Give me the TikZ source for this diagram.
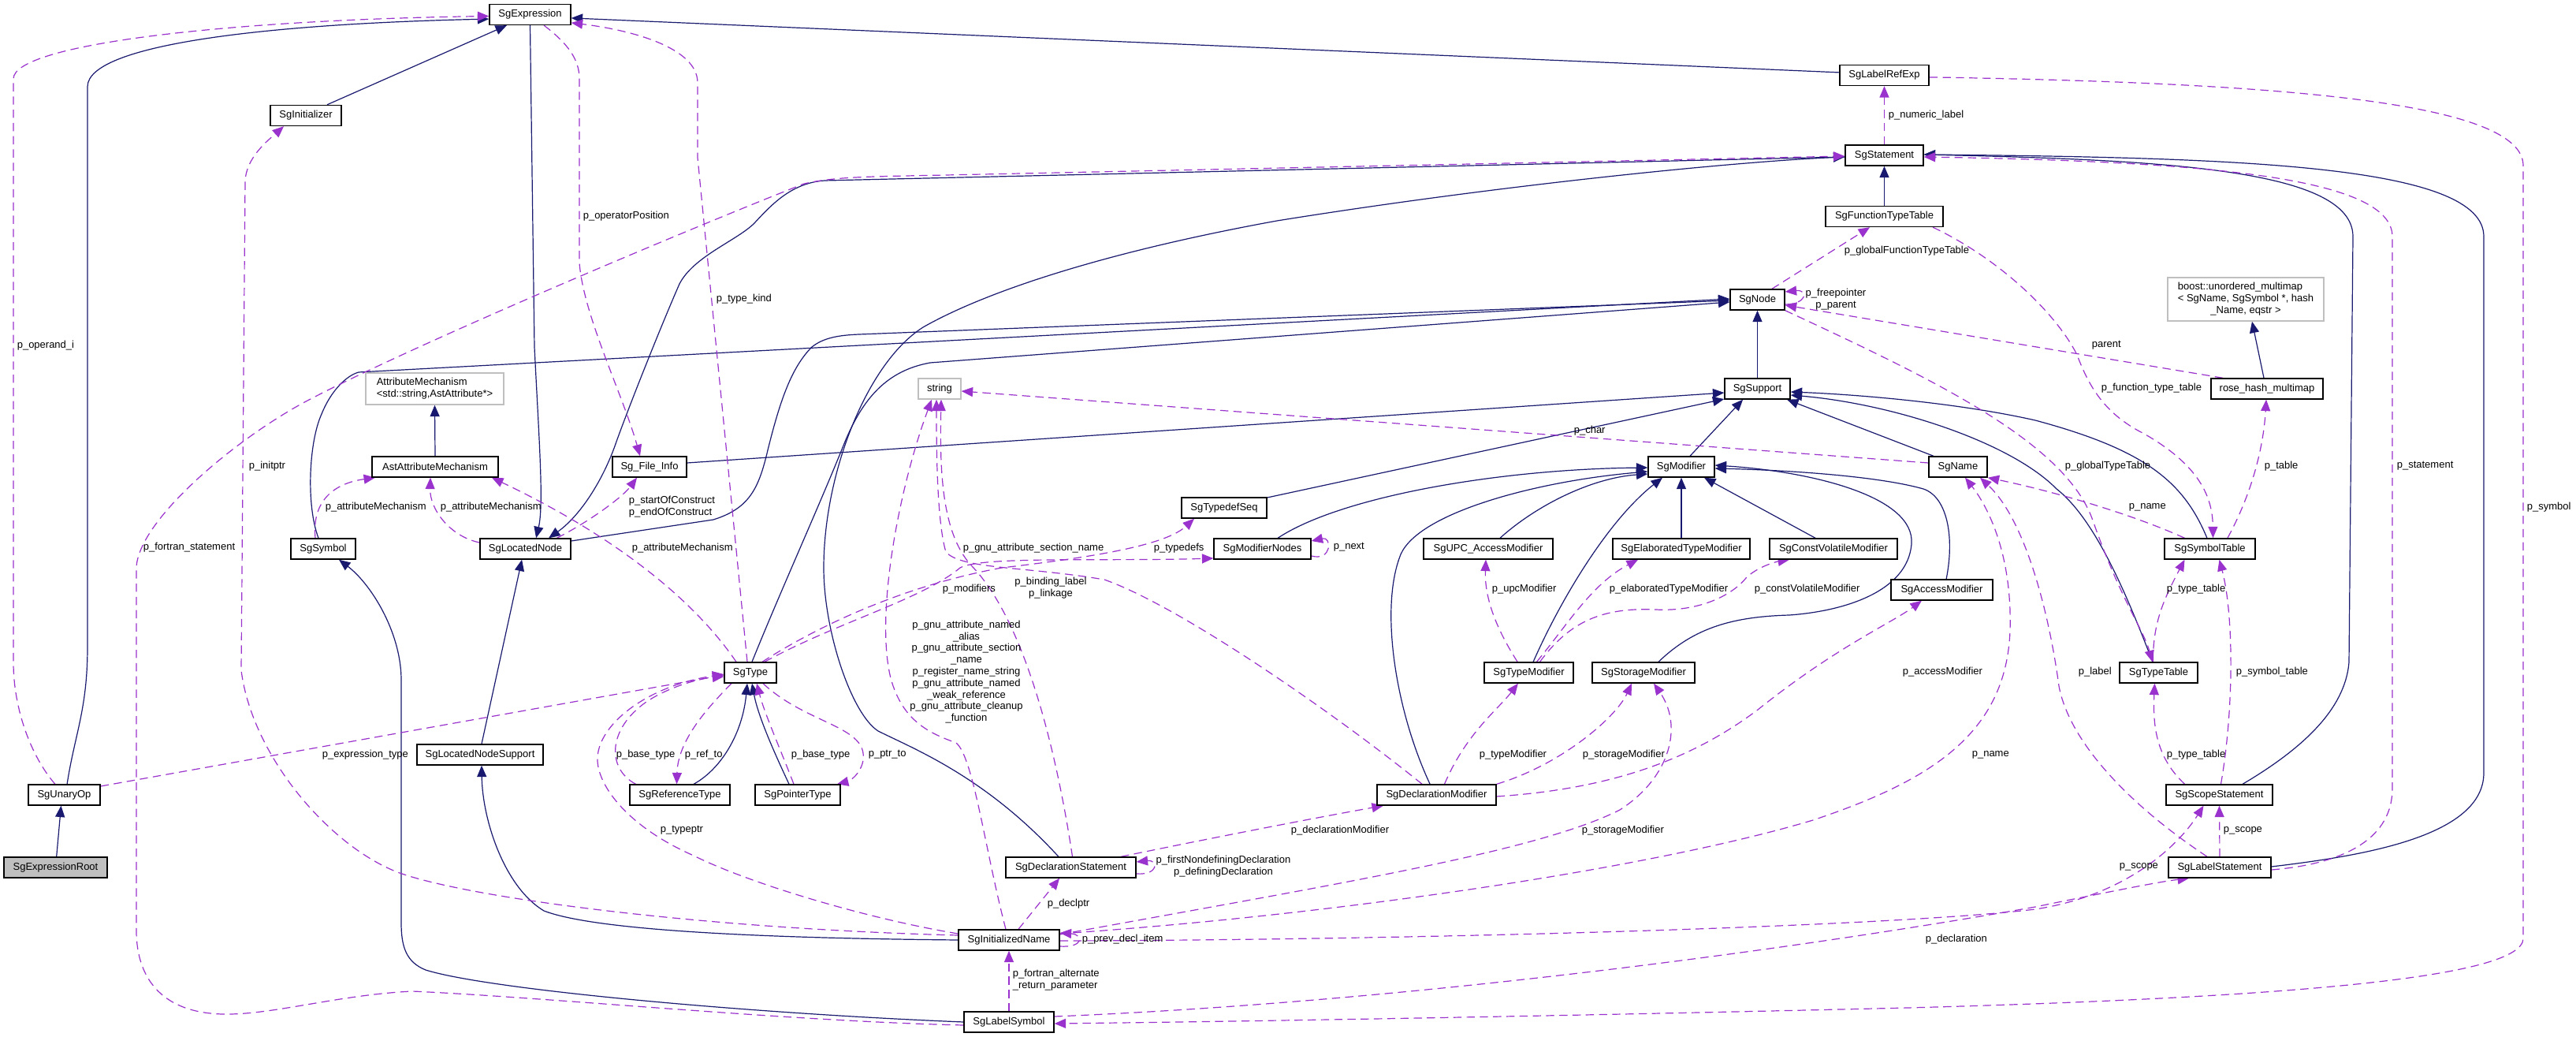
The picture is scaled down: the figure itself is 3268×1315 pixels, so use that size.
\documentclass[tikz,border=0pt]{standalone}
\usepackage{fontspec}
\setmainfont{Liberation Sans}
\usetikzlibrary{arrows.meta}
\definecolor{navy}{RGB}{25,25,112}
\definecolor{purp}{RGB}{154,50,205}
\definecolor{gbord}{RGB}{191,191,191}
\definecolor{gfill}{RGB}{191,191,191}
\pgfdeclarelayer{bg}
\pgfsetlayers{bg,main}
\begin{document}
\begin{tikzpicture}[x=0.25pt,y=-0.25pt,
  every node/.style={font=\fontsize{3.25pt}{3.7pt}\selectfont, inner sep=0pt},
  box/.style={draw=black, line width=0.35pt, fill=white, minimum height=6.5pt},
  gbox/.style={draw=gbord, line width=0.35pt, fill=white},
  inh/.style={draw=navy, line width=0.3pt, -{Triangle[length=3.6pt,width=3pt]}},
  use/.style={draw=purp, line width=0.3pt, dash pattern=on 2.6pt off 1.6pt, -{Triangle[length=3.6pt,width=3pt]}},
  lab/.style={anchor=west},
]
\useasboundingbox (0,0) rectangle (3268,1315);

% ---------- nodes ----------
\node[box,minimum width=25.75pt] (expr) at (672.5,18.5) {SgExpression};
\node[box,minimum width=22.5pt] (init) at (388,146.5) {SgInitializer};
\node[box,minimum width=28.25pt] (lre) at (2390.5,95.5) {SgLabelRefExp};
\node[box,minimum width=24.75pt] (stmt) at (2390.5,197) {SgStatement};
\node[box,minimum width=37.25pt] (ftt) at (2390.5,274.5) {SgFunctionTypeTable};
\node[box,minimum width=17.25pt] (node) at (2229.5,380) {SgNode};
\node[gbox,minimum width=49.5pt,minimum height=13.75pt] (boost) at (2849,379.5)
  {\begin{tabular}{@{}l@{}}boost::unordered\_multimap\\< SgName, SgSymbol *, hash\\\multicolumn{1}{@{}c@{}}{\_Name, eqstr >}\end{tabular}};
\node[box,minimum width=35.5pt] (rhm) at (2876,493) {rose\_hash\_multimap};
\node[box,minimum width=18.5pt] (name) at (2484,592) {SgName};
\node[box,minimum width=28.75pt] (symt) at (2803.5,696) {SgSymbolTable};
\node[box,minimum width=32.25pt] (accm) at (2463.5,748) {SgAccessModifier};
\node[box,minimum width=24.75pt] (typet) at (2738.5,853) {SgTypeTable};
\node[box,minimum width=20.75pt] (supp) at (2229.5,493) {SgSupport};
\node[box,minimum width=21pt] (modf) at (2133,592) {SgModifier};
\node[box,minimum width=30.75pt] (modn) at (1601.5,696) {SgModifierNodes};
\node[box,minimum width=41pt] (upc) at (1888,696) {SgUPC\_AccessModifier};
\node[box,minimum width=43.5pt] (elab) at (2133,696) {SgElaboratedTypeModifier};
\node[box,minimum width=40.5pt] (cvm) at (2326,696) {SgConstVolatileModifier};
\node[box,minimum width=28.25pt] (tmod) at (1939.5,853) {SgTypeModifier};
\node[box,minimum width=32.5pt] (smod) at (2085,853) {SgStorageModifier};
\node[gbox,minimum width=13.5pt,minimum height=6.5pt] (str) at (1192,493) {string};
\node[box,minimum width=23.5pt] (fi) at (824,592) {Sg\_File\_Info};
\node[box,minimum width=27pt] (tds) at (1553,644) {SgTypedefSeq};
\node[box,minimum width=16.5pt] (type) at (952,853) {SgType};
\node[gbox,minimum width=43.75pt,minimum height=10pt,align=left] (am) at (551.5,493) {AttributeMechanism\\<std::string,AstAttribute*>};
\node[box,minimum width=40pt] (aam) at (552,592) {AstAttributeMechanism};
\node[box,minimum width=20.5pt] (sym) at (410,696) {SgSymbol};
\node[box,minimum width=28.75pt] (ln) at (666.5,696) {SgLocatedNode};
\node[box,minimum width=22.75pt] (unop) at (81.5,1008) {SgUnaryOp};
\node[box,minimum width=32.75pt,fill=gfill] (root) at (70.5,1100) {SgExpressionRoot};
\node[box,minimum width=40pt] (lns) at (609,957) {SgLocatedNodeSupport};
\node[box,minimum width=31.75pt] (reft) at (862.5,1008) {SgReferenceType};
\node[box,minimum width=27pt] (ptrt) at (1012,1008) {SgPointerType};
\node[box,minimum width=41.25pt] (dst) at (1358.5,1100) {SgDeclarationStatement};
\node[box,minimum width=32pt] (iname) at (1280,1192) {SgInitializedName};
\node[box,minimum width=28.5pt] (lsym) at (1280,1296) {SgLabelSymbol};
\node[box,minimum width=37.75pt] (dmod) at (1822.5,1008) {SgDeclarationModifier};
\node[box,minimum width=33.75pt] (scope) at (2815.5,1008) {SgScopeStatement};
\node[box,minimum width=32.5pt] (lstmt) at (2816,1100) {SgLabelStatement};

% ---------- labels ----------
\node[lab] (l1) at (21,438) {p\_operand\_i};
\node[lab] (l2) at (739,274) {p\_operatorPosition};
\node[lab] (l3) at (908,379) {p\_type\_kind};
\node[lab] (l4) at (315,591) {p\_initptr};
\node[lab] (l5) at (181,694) {p\_fortran\_statement};
\node[lab] (l6) at (412,643) {p\_attributeMechanism};
\node[lab] (l7) at (558,643) {p\_attributeMechanism};
\node[lab,align=left] (l8) at (797,643) {p\_startOfConstruct\\p\_endOfConstruct};
\node[lab] (l9) at (801,695) {p\_attributeMechanism};
\node[lab] (l10) at (1221,695) {p\_gnu\_attribute\_section\_name};
\node[lab] (l11) at (1463,695) {p\_typedefs};
\node[lab] (l12) at (1195,747) {p\_modifiers};
\node[align=center] (l13) at (1333,746) {p\_binding\_label\\p\_linkage};
\node[align=center] (l14) at (1226,852) {p\_gnu\_attribute\_named\\\_alias\\p\_gnu\_attribute\_section\\\_name\\p\_register\_name\_string\\p\_gnu\_attribute\_named\\\_weak\_reference\\p\_gnu\_attribute\_cleanup\\\_function};
\node[lab] (l15) at (2395,146) {p\_numeric\_label};
\node[lab] (l16) at (2339,318) {p\_globalFunctionTypeTable};
\node[align=center] (l17) at (2329,380) {p\_freepointer\\p\_parent};
\node[lab] (l19) at (2653,438) {parent};
\node[lab] (l20) at (2665,492) {p\_function\_type\_table};
\node[lab] (l21) at (2619,591) {p\_globalTypeTable};
\node[lab] (l22) at (2872,591) {p\_table};
\node[lab] (l23) at (3040,591) {p\_statement};
\node[lab] (l24) at (2700,643) {p\_name};
\node[lab] (l25) at (3205,643) {p\_symbol};
\node[lab] (l26) at (1996,546) {p\_char};
\node[lab] (l27) at (1691,694) {p\_next};
\node[lab] (l28) at (1892,747) {p\_upcModifier};
\node[lab] (l29) at (2041,747) {p\_elaboratedTypeModifier};
\node[lab] (l30) at (2225,747) {p\_constVolatileModifier};
\node[lab] (l31) at (2748,747) {p\_type\_table};
\node[lab] (l32) at (2413,852) {p\_accessModifier};
\node[lab] (l33) at (2636,852) {p\_label};
\node[lab] (l34) at (2836,852) {p\_symbol\_table};
\node[lab] (l35) at (408,957) {p\_expression\_type};
\node[lab] (l36) at (781,957) {p\_base\_type};
\node[lab] (l37) at (868,957) {p\_ref\_to};
\node[lab] (l38) at (1003,957) {p\_base\_type};
\node[lab] (l39) at (1101,957) {p\_ptr\_to};
\node[lab] (l40) at (837,1053) {p\_typeptr};
\node[align=center] (l41) at (1552,1099) {p\_firstNondefiningDeclaration\\p\_definingDeclaration};
\node[lab] (l42) at (1328,1146) {p\_declptr};
\node[lab] (l43) at (1372,1191) {p\_prev\_decl\_item};
\node[lab,align=left] (l44) at (1284,1243) {p\_fortran\_alternate\\\_return\_parameter};
\node[lab] (l45) at (1876,957) {p\_typeModifier};
\node[lab] (l46) at (2007,957) {p\_storageModifier};
\node[lab] (l47) at (1637,1053) {p\_declarationModifier};
\node[lab] (l48) at (2006,1053) {p\_storageModifier};
\node[lab] (l49) at (2501,957) {p\_name};
\node[lab] (l50) at (2748,957) {p\_type\_table};
\node[lab] (l51) at (2820,1053) {p\_scope};
\node[lab] (l52) at (2688,1099) {p\_scope};
\node[lab] (l53) at (2442,1191) {p\_declaration};

\begin{pgfonlayer}{bg}
\fill[white] (0,0) rectangle (3268,1315);
% ---------- inheritance ----------
\draw[inh] ([xshift=0.3pt]root.north) -- ([xshift=-1pt]unop.south);
\draw[inh] ([xshift=0.9pt]unop.north) .. controls (95,930) and (111,900) .. (111,820) -- (111,110) .. controls (111,55) and (350,30) .. ([yshift=-1.4pt]expr.west);
\draw[inh] ([xshift=6.75pt]init.north) -- ([xshift=-7.4pt]expr.south);
\draw[inh] (expr.south) -- (678,440) .. controls (684,560) and (690,640) .. ([xshift=3.4pt]ln.north);
\draw[inh] ([yshift=-0.5pt]stmt.west) -- (1046,229) .. controls (1005,232) and (980,258) .. (957,283) .. controls (935,305) and (880,325) .. (862,360) .. controls (840,410) and (800,510) .. (782,560) .. controls (765,610) and (735,655) .. ([xshift=7.4pt]ln.north);
\draw[inh] ([xshift=0.5pt]lns.north) -- ([xshift=-1.1pt]ln.south);
\draw[inh] (iname.west) .. controls (1000,1190) and (760,1182) .. (690,1155) .. controls (640,1125) and (612,1040) .. ([xshift=0.5pt]lns.south);
\draw[inh] (lsym.west) .. controls (950,1285) and (620,1255) .. (540,1230) .. controls (515,1220) and (509,1200) .. (509,1170) -- (509,860) .. controls (508,800) and (470,740) .. ([xshift=5pt]sym.south);
\draw[inh] ([xshift=-1.5pt]sym.north) .. controls (388,640) and (392,560) .. (408,525) .. controls (420,495) and (440,476) .. (455,472) -- ([yshift=0.25pt]node.west);
\draw[inh] ([yshift=2.5pt]ln.east) -- (905,659) .. controls (950,645) and (962,620) .. (973,575) .. controls (990,505) and (1005,465) .. (1030,440) .. controls (1045,428) and (1065,425) .. (1090,424) -- ([yshift=-0.25pt]node.west);
\draw[inh] ([xshift=0.5pt]type.north) .. controls (990,750) and (1040,640) .. (1072,560) .. controls (1095,505) and (1125,470) .. (1180,460) -- ([yshift=-0.75pt]node.west);
\draw[inh] ([xshift=-3.9pt]dst.north) .. controls (1250,985) and (1160,950) .. (1114,927) .. controls (1080,905) and (1045,800) .. (1045,720) .. controls (1045,600) and (1100,460) .. (1171,415) .. controls (1250,370) and (1400,320) .. (1620,280) .. controls (1900,235) and (2200,205) .. ([yshift=-0.5pt]stmt.west);
\draw[inh] ([xshift=4.4pt]reft.north) .. controls (915,975) and (942,930) .. ([xshift=-1pt]type.south);
\draw[inh] ([xshift=-2.75pt]ptrt.north) .. controls (985,960) and (962,910) .. ([xshift=0.5pt]type.south);
\draw[inh] ([yshift=1.25pt]fi.east) -- ([yshift=-1.25pt]supp.west);
\draw[inh] ([yshift=3.25pt]tds.east) -- ([yshift=-3.25pt]supp.west);
\draw[inh] ([xshift=4.9pt]modn.north) .. controls (1700,630) and (1900,595) .. ([yshift=-0.25pt]modf.west);
\draw[inh] ([xshift=3.75pt]upc.north) .. controls (1950,640) and (2020,606) .. ([yshift=-2.25pt]modf.west);
\draw[inh] ([xshift=-2.1pt]dmod.north) .. controls (1770,900) and (1750,770) .. (1777,703) .. controls (1800,650) and (1950,610) .. ([yshift=-1.5pt]modf.west);
\draw[inh] ([xshift=1.4pt]tmod.north) .. controls (1980,760) and (2040,660) .. ([xshift=-6pt]modf.south);
\draw[inh] (elab.north) -- (modf.south);
\draw[inh] ([xshift=-5.75pt]cvm.north) -- ([xshift=7.25pt]modf.south);
\draw[inh] ([xshift=4.75pt]smod.north) .. controls (2150,795) and (2200,782) .. (2270,780) .. controls (2340,775) and (2420,750) .. (2425,690) .. controls (2430,630) and (2300,598) .. ([yshift=0.5pt]modf.east);
\draw[inh] ([xshift=1.4pt]accm.north) .. controls (2480,680) and (2470,630) .. (2440,620) .. controls (2380,603) and (2260,596) .. ([yshift=-0.5pt]modf.east);
\draw[inh] ([xshift=2.75pt]modf.north) -- ([xshift=-4.6pt]supp.south);
\draw[inh] ([xshift=-7.75pt]name.north) -- ([xshift=9.4pt]supp.south);
\draw[inh] ([xshift=-0.9pt]symt.north) .. controls (2770,610) and (2720,570) .. (2582,533) .. controls (2480,510) and (2350,500) .. ([yshift=-1pt]supp.east);
\draw[inh] ([xshift=-1.9pt]typet.north) .. controls (2700,760) and (2660,660) .. (2609,620) .. controls (2550,560) and (2400,512) .. ([yshift=-2pt]supp.east);
\draw[inh] (supp.north) -- (node.south);
\draw[inh] (ftt.north) -- (stmt.south);
\draw[inh] ([yshift=0.9pt]lre.west) -- ([yshift=-1.1pt]expr.east);
\draw[inh] ([xshift=7.4pt]scope.north) .. controls (2920,950) and (2975,900) .. (2980,840) -- (2985,300) .. controls (2985,215) and (2750,203) .. ([yshift=0.25pt]stmt.east);
\draw[inh] ([yshift=0.25pt]lstmt.east) .. controls (3000,1085) and (3151,1060) .. (3151,980) -- (3151,300) .. controls (3151,210) and (2850,200) .. ([yshift=0.25pt]stmt.east);
\draw[inh] ([xshift=-1pt]rhm.north) -- ([xshift=2pt]boost.south);
\draw[inh] (aam.north) -- (am.south);

% ---------- usage ----------
\draw[use] ([xshift=-2.9pt]unop.north) .. controls (40,960) and (17,900) .. (17,840) -- (17,100) .. controls (17,55) and (300,25) .. ([yshift=-0.5pt]expr.west);
\draw[use] ([yshift=2.75pt]unop.east) -- ([yshift=-0.75pt]type.west);
\draw[use] ([yshift=1.5pt]iname.west) .. controls (900,1178) and (600,1140) .. (507,1107) .. controls (420,1075) and (320,960) .. (306,850) -- (311,230) .. controls (312,200) and (340,178) .. ([xshift=-7pt]init.south);
\draw[use] ([xshift=4.4pt]expr.south) .. controls (720,55) and (735,75) .. (735,100) -- (735,333) .. controls (740,400) and (790,500) .. ([xshift=-3pt]fi.north);
\draw[use] ([xshift=-1pt]type.north) -- (885,200) -- (885,105) .. controls (885,60) and (800,38) .. ([yshift=-2.6pt]expr.east);
\draw[use] ([yshift=-1pt]lsym.west) .. controls (1000,1295) and (700,1265) .. (523,1257) .. controls (420,1262) and (330,1292) .. (267,1285) .. controls (200,1278) and (173,1235) .. (173,1180) -- (173,720) .. controls (175,660) and (300,555) .. (392,507) .. controls (520,440) and (850,300) .. (1020,233) .. controls (1060,224) and (1100,224) .. (1200,222) -- ([yshift=-0.25pt]stmt.west);
\draw[use] ([yshift=-0.6pt]lre.east) .. controls (2900,105) and (3201,130) .. (3201,210) -- (3201,1190) .. controls (3201,1240) and (2900,1265) .. (2420,1278) .. controls (2000,1288) and (1600,1295) .. ([yshift=-0.5pt]lsym.east);
\draw[use] (stmt.north) -- (lre.south);
\draw[use] ([xshift=4.6pt]node.north) -- ([xshift=-4.6pt]ftt.south);
\draw[use] ([yshift=-1.5pt]node.east) .. controls (2292,386) and (2295,367) .. ([yshift=2.5pt]node.east);
\draw[use] ([xshift=-14pt]rhm.north) -- ([yshift=-1.75pt]node.east);
\draw[use] ([xshift=15.4pt]ftt.south) .. controls (2540,330) and (2610,400) .. (2635,450) .. controls (2650,490) and (2670,525) .. (2720,550) .. controls (2790,590) and (2807,630) .. ([xshift=1pt]symt.north);
\draw[use] ([xshift=5.6pt]symt.north) .. controls (2860,620) and (2872,560) .. ([xshift=-0.25pt]rhm.south);
\draw[use] ([yshift=1.25pt]name.west) -- ([yshift=-0.75pt]str.east);
\draw[use] ([xshift=-8pt]symt.north) .. controls (2700,650) and (2600,622) .. (name.south east);
\draw[use] ([xshift=-4.5pt]type.north) .. controls (880,760) and (780,680) .. ([xshift=18pt]aam.south);
\draw[use] ([xshift=-2.5pt]sym.north) .. controls (395,630) and (430,612) .. ([xshift=-19pt]aam.south);
\draw[use] ([yshift=2pt]ln.west) .. controls (570,680) and (545,645) .. ([xshift=-1.5pt]aam.south);
\draw[use] ([xshift=10pt]ln.north) .. controls (750,660) and (790,630) .. ([xshift=-4pt]fi.south);
\draw[use] ([yshift=-0.75pt]lstmt.east) .. controls (2980,1095) and (3035,1060) .. (3035,1000) -- (3035,300) .. controls (3035,225) and (2800,205) .. ([yshift=-0.5pt]stmt.east);
\draw[use] ([yshift=-2pt]dst.east) .. controls (1470,1110) and (1470,1090) .. ([yshift=1.75pt]dst.east);
\draw[use] ([xshift=3pt]iname.north) -- ([xshift=-3.6pt]dst.south);
\draw[use] ([yshift=-2pt]iname.east) .. controls (1375,1202) and (1375,1185) .. ([yshift=2.25pt]iname.east);
\draw[use] (lsym.north) -- (iname.south);
\draw[use] ([yshift=2pt]iname.west) .. controls (1100,1165) and (950,1120) .. (880,1085) .. controls (800,1050) and (760,1000) .. (758,965) .. controls (756,920) and (820,870) .. ([yshift=-0.5pt]type.west);
\draw[use] ([xshift=-14pt]reft.north) .. controls (770,975) and (770,925) .. (820,890) .. controls (850,870) and (890,860) .. ([yshift=-1.25pt]type.west);
\draw[use] ([xshift=-6pt]type.south) .. controls (895,900) and (860,940) .. ([xshift=-1pt]reft.north);
\draw[use] ([xshift=-1.25pt]ptrt.north) .. controls (990,950) and (970,905) .. ([xshift=2pt]type.south);
\draw[use] ([xshift=4pt]type.south) .. controls (1020,915) and (1090,920) .. (1095,955) .. controls (1098,975) and (1080,990) .. ([xshift=12.5pt]ptrt.north);
\draw[use] ([xshift=4.5pt]type.north) .. controls (1060,790) and (1170,760) .. (1218,720) .. controls (1245,705) and (1400,712) .. ([yshift=-3pt]modn.west);
\draw[use] ([xshift=3.75pt]type.north) .. controls (1050,786) and (1160,740) .. (1271,720) .. controls (1400,705) and (1480,690) .. ([xshift=-9.5pt]tds.south);
\draw[use] ([xshift=-4.6pt]dmod.north) .. controls (1700,910) and (1500,770) .. (1401,735) .. controls (1300,718) and (1220,722) .. (1200,700) .. controls (1188,660) and (1188,560) .. ([xshift=-1pt]str.south);
\draw[use] ([xshift=0.5pt]dst.north) .. controls (1340,950) and (1300,790) .. (1235,720) .. controls (1195,680) and (1192,600) .. ([xshift=0.5pt]str.south);
\draw[use] ([xshift=-1pt]iname.north) .. controls (1250,1080) and (1235,960) .. (1213,942) .. controls (1180,930) and (1145,915) .. (1130,860) .. controls (1110,780) and (1140,620) .. ([xshift=-2.5pt]str.south);
\draw[use] ([yshift=-2.25pt]modn.east) .. controls (1690,712) and (1690,680) .. ([yshift=2.5pt]modn.east);
\draw[use] ([xshift=-3.6pt]tmod.north) .. controls (1900,800) and (1883,760) .. ([xshift=-0.75pt]upc.south);
\draw[use] ([xshift=2.5pt]tmod.north) .. controls (1990,790) and (2020,740) .. ([xshift=-13.75pt]elab.south);
\draw[use] ([xshift=3.5pt]tmod.north) .. controls (1990,790) and (2030,770) .. (2100,773) .. controls (2160,776) and (2200,752) .. (2215,733) .. controls (2230,718) and (2255,712) .. ([xshift=-14pt]cvm.south);
\draw[use] ([xshift=2.5pt]dmod.north) .. controls (1860,930) and (1900,900) .. ([xshift=-3.4pt]tmod.south);
\draw[use] (dmod.north east) .. controls (1980,970) and (2050,910) .. ([xshift=-3.75pt]smod.south);
\draw[use] ([yshift=1.75pt]iname.east) .. controls (1700,1120) and (1950,1080) .. (2055,1027) .. controls (2120,985) and (2135,920) .. ([xshift=3.25pt]smod.south);
\draw[use] ([yshift=-0.5pt]dmod.east) .. controls (2050,1000) and (2150,960) .. (2230,900) .. controls (2330,820) and (2400,790) .. ([xshift=-6.4pt]accm.south);
\draw[use] ([xshift=15.9pt]dst.north) .. controls (1550,1060) and (1680,1035) .. ([xshift=-16.9pt]dmod.south);
\draw[use] ([yshift=2pt]iname.east) .. controls (1700,1160) and (2100,1100) .. (2300,1040) .. controls (2450,990) and (2545,930) .. (2550,800) .. controls (2553,700) and (2520,640) .. ([xshift=2.25pt]name.south);
\draw[use] ([xshift=-4pt]lstmt.north) .. controls (2700,1020) and (2625,940) .. (2612,870) .. controls (2600,780) and (2570,660) .. ([xshift=7pt]name.south);
\draw[use] ([yshift=-0.25pt]iname.east) .. controls (1800,1192) and (2400,1175) .. (2582,1153) .. controls (2700,1135) and (2765,1070) .. ([xshift=-5pt]scope.south);
\draw[use] ([yshift=1.75pt]lsym.east) .. controls (1800,1270) and (2300,1200) .. (2582,1150) .. controls (2680,1130) and (2740,1118) .. ([xshift=-9.75pt]lstmt.south);
\draw[use] ([xshift=0.5pt]scope.north) .. controls (2834,900) and (2834,780) .. ([xshift=3pt]symt.south);
\draw[use] ([xshift=-11pt]scope.north) .. controls (2735,960) and (2731,920) .. ([xshift=-1.25pt]typet.south);
\draw[use] ([xshift=-1.75pt]typet.north) .. controls (2731,790) and (2745,760) .. ([xshift=-8pt]symt.south);
\draw[use] (lstmt.north) -- (scope.south);
\draw[use] (node.south east) .. controls (2450,480) and (2620,560) .. (2655,660) .. controls (2690,760) and (2720,800) .. ([xshift=-2pt]typet.north);
\end{pgfonlayer}
\end{tikzpicture}
\end{document}
